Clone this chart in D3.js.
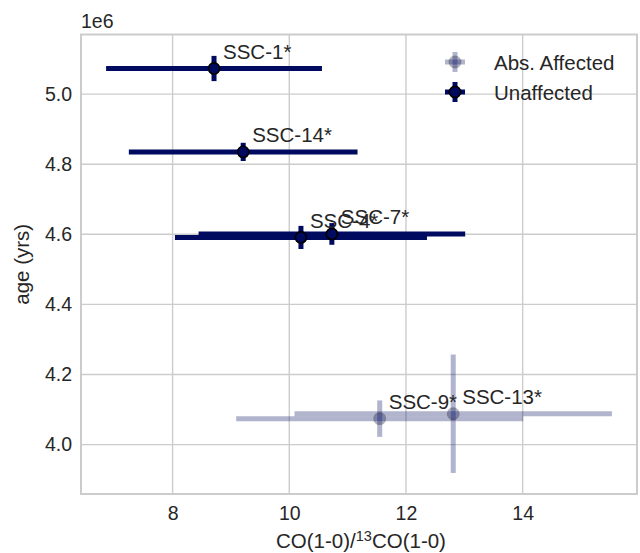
<!DOCTYPE html>
<html>
<head>
<meta charset="utf-8">
<script src="https://cdn.jsdelivr.net/npm/d3@7"></script>
<style>
  body { margin: 0; background: #fff; }
  svg { display: block; }
  text { font-family: "Liberation Sans", Arial, sans-serif; fill: #262626; }
</style>
</head>
<body>
<svg id="chart" width="640" height="553"></svg>
<script>
// ---- data ----
const affectedNames = ["SSC-9*", "SSC-13*"];
const affectedRatio = [11.55, 12.81];
const affectedRatioErr = [2.46, 2.72];
const affectedAge = [4.074e6, 4.088e6];
const affectedAgeErr = [0.052e6, 0.169e6];

const unaffectedNames = ["SSC-1*", "SSC-14*", "SSC-4*", "SSC-7*"];
const unaffectedRatio = [8.71, 9.21, 10.20, 10.73];
const unaffectedRatioErr = [1.85, 1.96, 2.16, 2.285];
const unaffectedAge = [5.073e6, 4.835e6, 4.591e6, 4.601e6];
const unaffectedAgeErr = [0.036e6, 0.026e6, 0.033e6, 0.031e6];

const xTicks = [8, 10, 12, 14];
const yTicks = [4.0e6, 4.2e6, 4.4e6, 4.6e6, 4.8e6, 5.0e6];
const legendLabels = ["Abs. Affected", "Unaffected"];

// ---- layout ----
const svg = d3.select("#chart");
const L = 81, R = 637, T = 34.5, B = 494;
const x = d3.scaleLinear().domain([6.43, 15.96]).range([L, R]);
const y = d3.scaleLinear().domain([3.859e6, 5.17e6]).range([B, T]);
const navy = "#000a5e";
const grid = "#cccccc";

// grid
const g = svg.append("g");
g.selectAll(".gx").data(xTicks).enter().append("line")
  .attr("x1", d => x(d)).attr("x2", d => x(d)).attr("y1", T).attr("y2", B)
  .attr("stroke", grid).attr("stroke-width", 1.4);
g.selectAll(".gy").data(yTicks).enter().append("line")
  .attr("y1", d => y(d)).attr("y2", d => y(d)).attr("x1", L).attr("x2", R)
  .attr("stroke", grid).attr("stroke-width", 1.4);

// axes (tick labels via d3 axes)
const xAxis = d3.axisBottom(x).tickValues(xTicks).tickSize(0).tickPadding(12).tickFormat(d3.format("d"));
const yAxis = d3.axisLeft(y).tickValues(yTicks).tickSize(0).tickPadding(9).tickFormat(d => (d / 1e6).toFixed(1));
const gx = svg.append("g").attr("transform", `translate(0,${B})`).call(xAxis);
const gy = svg.append("g").attr("transform", `translate(${L},0)`).call(yAxis);
[gx, gy].forEach(a => {
  a.select(".domain").remove();
  a.selectAll("text").style("font-size", "19.5px").attr("fill", "#262626")
    .style("font-family", '"Liberation Sans", Arial, sans-serif');
});

// frame
svg.append("rect").attr("x", L).attr("y", T).attr("width", R - L).attr("height", B - T)
  .attr("fill", "none").attr("stroke", grid).attr("stroke-width", 2);

// offset text
svg.append("text").attr("x", L).attr("y", 28).style("font-size", "19.5px").text("1e6");

// axis labels
const xl = svg.append("text").attr("x", (L + R) / 2 + 2).attr("y", 548).attr("text-anchor", "middle").style("font-size", "20.5px");
xl.append("tspan").text("CO(1-0)/");
xl.append("tspan").attr("dy", -7.5).style("font-size", "14.5px").text("13");
xl.append("tspan").attr("dy", 7.5).text("CO(1-0)");
svg.append("text").attr("transform", `translate(29,${(T + B) / 2}) rotate(-90)`)
  .attr("text-anchor", "middle").style("font-size", "20.5px").text("age (yrs)");

// ---- error bars ----
function drawSeries(names, xs, xe, ys, ye, opacity) {
  const gg = svg.append("g");
  const idx = d3.range(names.length);
  idx.forEach(i => {
    gg.append("line").attr("x1", x(xs[i] - xe[i])).attr("x2", x(xs[i] + xe[i]))
      .attr("y1", y(ys[i])).attr("y2", y(ys[i]))
      .attr("stroke", navy).attr("stroke-width", 5).attr("opacity", opacity);
    gg.append("line").attr("x1", x(xs[i])).attr("x2", x(xs[i]))
      .attr("y1", y(ys[i] - ye[i])).attr("y2", y(ys[i] + ye[i]))
      .attr("stroke", navy).attr("stroke-width", 5).attr("opacity", opacity);
  });
  idx.forEach(i => {
    gg.append("circle").attr("cx", x(xs[i])).attr("cy", y(ys[i])).attr("r", 5.6)
      .attr("fill", navy).attr("stroke", "#000").attr("stroke-width", 1.6).attr("opacity", opacity);
  });
  return gg;
}
drawSeries(affectedNames, affectedRatio, affectedRatioErr, affectedAge, affectedAgeErr, 0.3);
drawSeries(unaffectedNames, unaffectedRatio, unaffectedRatioErr, unaffectedAge, unaffectedAgeErr, 1);

// labels
function drawLabels(names, xs, ys) {
  names.forEach((n, i) => {
    svg.append("text").attr("x", x(xs[i]) + 9).attr("y", y(ys[i]) - 9.5)
      .style("font-size", "20.5px").text(n);
  });
}
drawLabels(affectedNames, affectedRatio, affectedAge);
drawLabels(unaffectedNames, unaffectedRatio, unaffectedAge);

// ---- legend ----
const legY = [62, 92];
const legOp = [0.3, 1];
legendLabels.forEach((lab, i) => {
  const lg = svg.append("g");
  const cx = 455, cy = legY[i], op = legOp[i];
  lg.append("line").attr("x1", cx - 10).attr("x2", cx + 10).attr("y1", cy).attr("y2", cy)
    .attr("stroke", navy).attr("stroke-width", 5).attr("opacity", op);
  lg.append("line").attr("x1", cx).attr("x2", cx).attr("y1", cy - 10).attr("y2", cy + 10)
    .attr("stroke", navy).attr("stroke-width", 5).attr("opacity", op);
  lg.append("circle").attr("cx", cx).attr("cy", cy).attr("r", 5.6)
    .attr("fill", navy).attr("stroke", "#000").attr("stroke-width", 1.6).attr("opacity", op);
  svg.append("text").attr("x", 494).attr("y", cy + 7.5).style("font-size", "20.5px").text(lab);
});
</script>
</body>
</html>
